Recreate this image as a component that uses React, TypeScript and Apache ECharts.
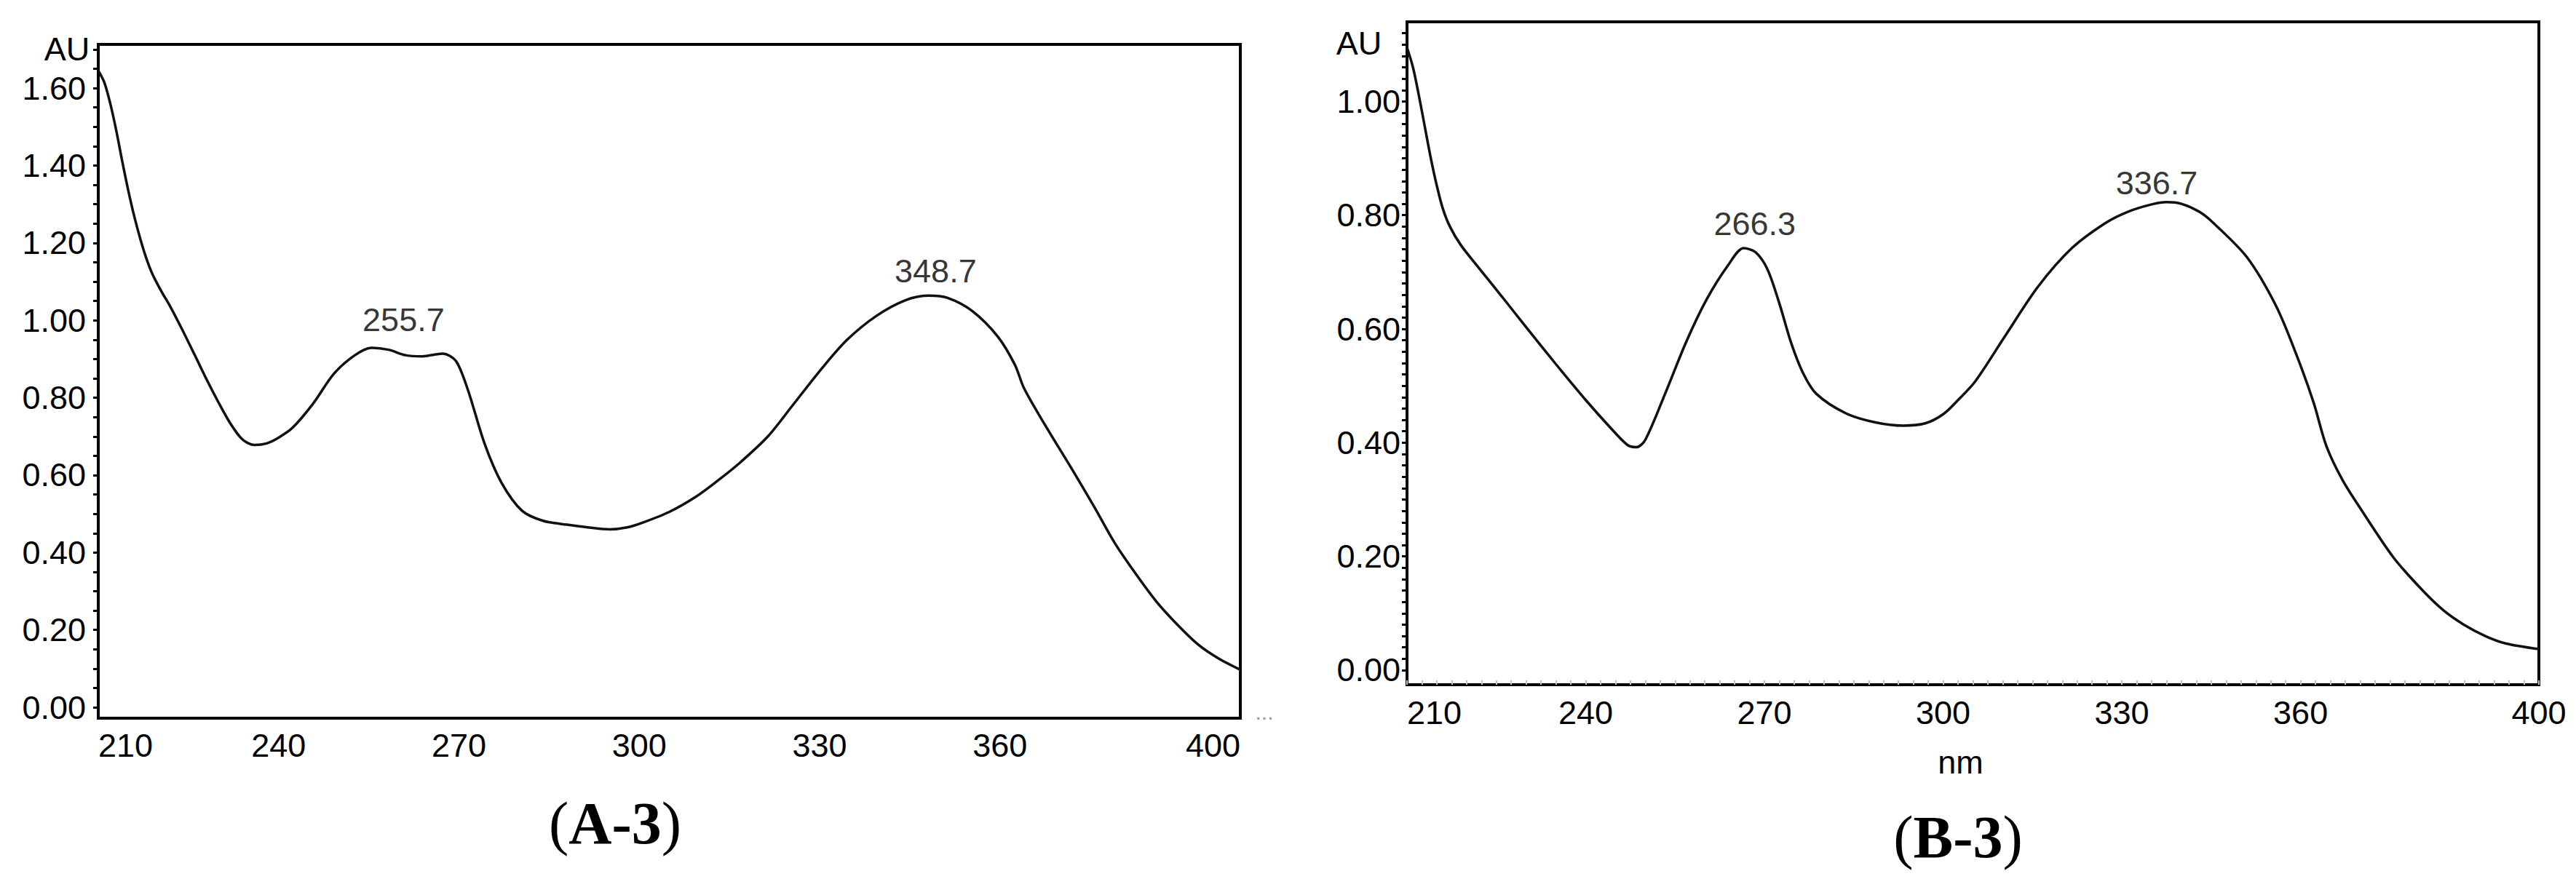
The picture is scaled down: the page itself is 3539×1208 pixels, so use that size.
import React, { useEffect, useRef } from "react";
import * as echarts from "echarts";

// ---------- data ----------
const wavelengthA = [
  210.0, 211.0, 212.0, 213.0, 214.0, 215.0, 216.0, 217.0, 218.0, 219.0, 220.5, 222.0, 224.0,
  226.0, 228.0, 230.0, 232.0, 234.0, 236.0, 238.0, 240.0, 242.3, 245.7, 249.2, 252.7, 255.5,
  258.3, 261.1, 263.9, 267.3, 269.5, 271.5, 274.3, 277.1, 280.5, 284.0, 288.0, 291.0, 295.1,
  298.0, 300.7, 305.0, 309.5, 313.0, 316.6, 321.4, 325.5, 330.5, 334.6, 339.5, 344.3, 348.2,
  351.3, 355.4, 359.7, 362.5, 364.0, 367.3, 372.2, 375.7, 379.1, 382.6, 386.1, 389.5, 393.0,
  396.5, 400.0,
];
const absorbanceA = [
  1.645, 1.615, 1.560, 1.490, 1.410, 1.335, 1.268, 1.210, 1.160, 1.120, 1.075, 1.035, 0.975,
  0.912, 0.848, 0.788, 0.733, 0.692, 0.678, 0.682, 0.697, 0.722, 0.784, 0.862, 0.910, 0.929,
  0.924, 0.910, 0.907, 0.914, 0.895, 0.820, 0.680, 0.580, 0.508, 0.482, 0.472, 0.466, 0.460,
  0.465, 0.478, 0.505, 0.545, 0.585, 0.630, 0.700, 0.780, 0.878, 0.950, 1.012, 1.052, 1.064,
  1.058, 1.024, 0.957, 0.885, 0.825, 0.735, 0.610, 0.518, 0.425, 0.345, 0.272, 0.214, 0.162,
  0.125, 0.097,
];

const wavelengthB = [
  210.0, 211.0, 212.0, 213.0, 214.0, 215.0, 216.0, 217.2, 219.0, 222.0, 226.0, 230.0, 235.0,
  240.0, 244.0, 247.0, 248.5, 250.0, 253.4, 256.9, 260.3, 263.9, 266.5, 268.5, 270.5, 272.5,
  274.5, 276.5, 278.7, 283.6, 288.5, 293.3, 297.0, 300.0, 302.5, 305.4, 310.3, 315.9, 321.6,
  327.2, 331.0, 335.0, 337.5, 340.0, 343.0, 345.4, 351.0, 355.9, 359.4, 362.2, 364.3, 367.0,
  370.0, 375.6, 380.5, 384.0, 387.4, 391.0, 394.4, 400.0,
];
const absorbanceB = [
  1.095, 1.060, 1.010, 0.955, 0.900, 0.852, 0.812, 0.780, 0.748, 0.708, 0.656, 0.603, 0.538,
  0.475, 0.428, 0.396, 0.392, 0.405, 0.488, 0.578, 0.652, 0.712, 0.742, 0.735, 0.705, 0.645,
  0.575, 0.522, 0.486, 0.452, 0.436, 0.430, 0.434, 0.450, 0.475, 0.508, 0.586, 0.674, 0.742,
  0.786, 0.806, 0.819, 0.823, 0.820, 0.806, 0.786, 0.726, 0.640, 0.552, 0.470, 0.395, 0.335,
  0.285, 0.198, 0.140, 0.105, 0.080, 0.060, 0.047, 0.037,
];

const peakWavelengthA = [255.7, 348.7];
const peakAbsorbanceA = [0.929, 1.063];
const peakWavelengthB = [266.3, 336.7];
const peakAbsorbanceB = [0.741, 0.823];

const xTickLabels = [210, 240, 270, 300, 330, 360, 400];
const yTickLabelsA = [0, 0.2, 0.4, 0.6, 0.8, 1.0, 1.2, 1.4, 1.6];
const yTickLabelsB = [0, 0.2, 0.4, 0.6, 0.8, 1.0];
const yMinorStepA = 0.05;
const yMinorCountA = 35; // 0.00 .. 1.70
const yMinorStepB = 0.02;
const yMinorCountB = 57; // 0.00 .. 1.12
const xMinorStepB = 2.5;
const xMinorCountB = 77; // 210 .. 400

const axisRangeA = { xMin: 210, xMax: 400, yMin: -0.028, yMax: 1.713 };
const axisRangeB = { xMin: 210, xMax: 400, yMin: -0.0256, yMax: 1.14 };

const panelTitles = ["A-3", "B-3"];
const yUnit = "AU";
const xUnit = "nm";

// ---------- styling ----------
const SANS = '"Liberation Sans", Arial, sans-serif';
const SERIF = '"Liberation Serif", "Times New Roman", serif';
const TXT = { fontFamily: SANS, fontSize: 45, lineHeight: 45, color: "#000" };
const peakLabelOffsetsA = [[42, -15], [5, -11]];
const peakLabelOffsetsB = [[17, -11], [-7, -3]];
const CURVE = { color: "#111", width: 3.5 };
const TITLE_SIZE = 82;

function steps(start: number, step: number, count: number) {
  const out: number[] = [];
  for (let i = 0; i < count; i++) out.push(+(start + i * step).toFixed(4));
  return out;
}

function buildOption() {
  const lineA = wavelengthA.map((w, i) => [w, absorbanceA[i]]);
  const lineB = wavelengthB.map((w, i) => [w, absorbanceB[i]]);
  const peaksA = peakWavelengthA.map((w, i) => ({
    value: [w, peakAbsorbanceA[i]],
    label: { offset: peakLabelOffsetsA[i] },
  }));
  const peaksB = peakWavelengthB.map((w, i) => ({
    value: [w, peakAbsorbanceB[i]],
    label: { offset: peakLabelOffsetsB[i] },
  }));

  const axisLine = { onZero: false, lineStyle: { color: "#000", width: 4 } };
  const peakLabel = {
    show: true,
    position: "top",
    distance: 0,
    ...TXT,
    formatter: (p: any) => p.value[0].toFixed(1),
  };

  return {
    animation: false,
    backgroundColor: "#ffffff",
    grid: [
      { left: 135, top: 61, width: 1569, height: 926, show: true, borderColor: "#000", borderWidth: 4 },
      { left: 1933, top: 30, width: 1555, height: 911, show: true, borderColor: "#000", borderWidth: 4 },
    ],
    xAxis: [
      {
        type: "value",
        gridIndex: 0,
        min: axisRangeA.xMin,
        max: axisRangeA.xMax,
        axisLine,
        axisTick: { show: false },
        splitLine: { show: false },
        axisLabel: {
          customValues: xTickLabels,
          formatter: (v: number) => String(v),
          margin: 15,
          alignMinLabel: "left",
          alignMaxLabel: "right",
          ...TXT,
        },
      },
      {
        type: "value",
        gridIndex: 1,
        min: axisRangeB.xMin,
        max: axisRangeB.xMax,
        name: xUnit,
        nameLocation: "middle",
        nameGap: 84,
        nameTextStyle: { ...TXT, padding: [0, 34, 0, 0] },
        axisLine,
        axisTick: {
          show: true,
          inside: true,
          length: 6,
          customValues: steps(210, xMinorStepB, xMinorCountB),
          lineStyle: { color: "#c4c4c4", width: 2 },
        },
        splitLine: { show: false },
        axisLabel: {
          customValues: xTickLabels,
          formatter: (v: number) => String(v),
          margin: 16,
          alignMinLabel: "left",
          ...TXT,
        },
      },
    ],
    yAxis: [
      {
        type: "value",
        gridIndex: 0,
        min: axisRangeA.yMin,
        max: axisRangeA.yMax,
        axisLine,
        axisTick: {
          show: true,
          inside: false,
          length: 7,
          customValues: steps(0, yMinorStepA, yMinorCountA),
          lineStyle: { color: "#000", width: 3 },
        },
        splitLine: { show: false },
        axisLabel: {
          customValues: yTickLabelsA,
          formatter: (v: number) => v.toFixed(2),
          margin: 17,
          ...TXT,
        },
      },
      {
        type: "value",
        gridIndex: 1,
        min: axisRangeB.yMin,
        max: axisRangeB.yMax,
        axisLine,
        axisTick: {
          show: true,
          inside: false,
          length: 7,
          customValues: steps(0, yMinorStepB, yMinorCountB),
          lineStyle: { color: "#000", width: 3 },
        },
        splitLine: { show: false },
        axisLabel: {
          customValues: yTickLabelsB,
          formatter: (v: number) => v.toFixed(2),
          margin: 9,
          ...TXT,
        },
      },
    ],
    series: [
      {
        type: "line",
        xAxisIndex: 0,
        yAxisIndex: 0,
        data: lineA,
        showSymbol: false,
        smooth: 0.3,
        lineStyle: CURVE,
      },
      {
        type: "line",
        xAxisIndex: 1,
        yAxisIndex: 1,
        data: lineB,
        showSymbol: false,
        smooth: 0.3,
        lineStyle: CURVE,
      },
      {
        type: "scatter",
        xAxisIndex: 0,
        yAxisIndex: 0,
        symbolSize: 1,
        itemStyle: { color: "rgba(0,0,0,0)" },
        data: peaksA,
        label: peakLabel,
      },
      {
        type: "scatter",
        xAxisIndex: 1,
        yAxisIndex: 1,
        symbolSize: 1,
        itemStyle: { color: "rgba(0,0,0,0)" },
        data: peaksB,
        label: peakLabel,
      },
    ],
    graphic: [
      {
        type: "text",
        x: 92,
        y: 67,
        style: { text: yUnit, fontFamily: SANS, fontSize: 45, fill: "#000", align: "center", verticalAlign: "middle" },
      },
      {
        type: "text",
        x: 1867,
        y: 59,
        style: { text: yUnit, fontFamily: SANS, fontSize: 45, fill: "#000", align: "center", verticalAlign: "middle" },
      },
      {
        type: "text",
        x: 1737,
        y: 978,
        style: { text: "...", fontFamily: SANS, fontSize: 30, fill: "#9a9a9a", align: "center", verticalAlign: "middle" },
      },
      ...panelTitles.map((t, i) => ({
        type: "text",
        x: i === 0 ? 845 : 2690,
        y: i === 0 ? 1131 : 1150,
        style: {
          text: `{p|(}{b|${t}}{p|)}`,
          align: "center",
          verticalAlign: "middle",
          rich: {
            p: { fontFamily: SERIF, fontSize: TITLE_SIZE, fill: "#000" },
            b: { fontFamily: SERIF, fontSize: TITLE_SIZE, fontWeight: "bold", fill: "#000" },
          },
        },
      })),
    ],
  };
}

export default function App() {
  const ref = useRef<HTMLDivElement | null>(null);
  useEffect(() => {
    if (!ref.current) return;
    const chart = echarts.init(ref.current, null, { renderer: "svg" });
    chart.setOption(buildOption() as any);
    return () => chart.dispose();
  }, []);
  return (
    <div
      ref={ref}
      style={{ position: "absolute", left: 0, top: 0, width: 3539, height: 1208, background: "#fff" }}
    />
  );
}
